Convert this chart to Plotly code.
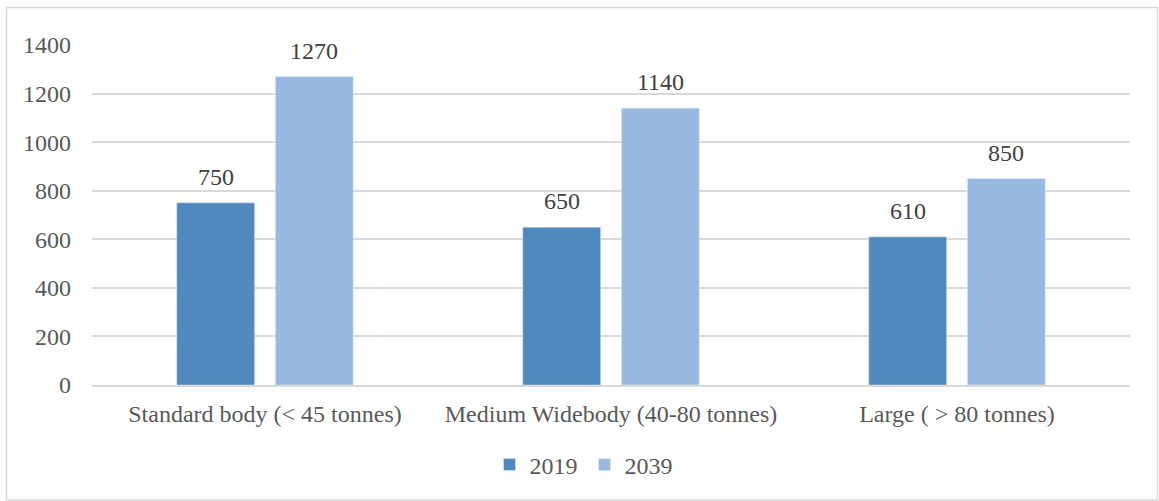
import plotly.graph_objects as go

categories = ["Standard body (< 45 tonnes)", "Medium Widebody (40-80 tonnes)", "Large ( > 80 tonnes)"]
values_2019 = [750, 650, 610]
values_2039 = [1270, 1140, 850]
y_ticks = [0, 200, 400, 600, 800, 1000, 1200, 1400]

W, H = 1159, 501
ml, mr, mt, mb = 92, 29, 45, 116
pw, ph = W - ml - mr, H - mt - mb

FAM = "Liberation Serif"
FS = 24
font = dict(family=FAM, size=FS, color="#595959")

fig = go.Figure()
fig.add_trace(go.Bar(name="2019", x=categories, y=values_2019, marker_color="#4F89BD",
                     offsetgroup="a"))
fig.add_trace(go.Bar(name="2039", x=categories, y=values_2039, marker_color="#98B9E0",
                     offsetgroup="b"))

def px2x(px):
    return (px - ml) / pw

def py2y(py):
    return (H - mb - py) / ph

# data labels placed above bars via annotations (offset per group)
annotations = []
for i, c in enumerate(categories):
    for v, shift in ((values_2019[i], -49), (values_2039[i], 49)):
        annotations.append(dict(x=c, y=v, xref="x", yref="y", text=str(v), showarrow=False,
                                xshift=shift, yanchor="bottom", yshift=11,
                                font=dict(family=FAM, size=FS, color="#404040")))

fig.update_layout(
    width=W, height=H,
    margin=dict(l=ml, r=mr, t=mt, b=mb),
    paper_bgcolor="white", plot_bgcolor="white",
    barmode="group", bargap=0.43, bargroupgap=0.21,
    font=font,
    showlegend=True,
    legend=dict(orientation="h", x=px2x(489.5), xanchor="left", y=py2y(465), yanchor="middle",
                font=dict(family=FAM, size=FS, color="#595959"), itemwidth=30,
                entrywidth=50, entrywidthmode="pixels"),
    xaxis=dict(showline=True, linecolor="#d9d9d9", linewidth=1.5, ticks="",
               ticklabelstandoff=6, tickfont=dict(family=FAM, size=FS, color="#595959")),
    yaxis=dict(range=[0, 1400], tickvals=y_ticks, showgrid=True, gridcolor="#d9d9d9",
               gridwidth=1.5, zeroline=False, showline=False, ticks="",
               ticklabelstandoff=20, tickfont=dict(family=FAM, size=FS, color="#595959")),
    annotations=annotations,
    shapes=[dict(type="rect", xref="paper", yref="paper",
                 x0=px2x(6.5), x1=px2x(1157.5), y0=py2y(500), y1=py2y(7.5),
                 line=dict(color="#d9d9d9", width=1.5), fillcolor="rgba(0,0,0,0)", layer="below")],
)

fig.write_html("out.html")
